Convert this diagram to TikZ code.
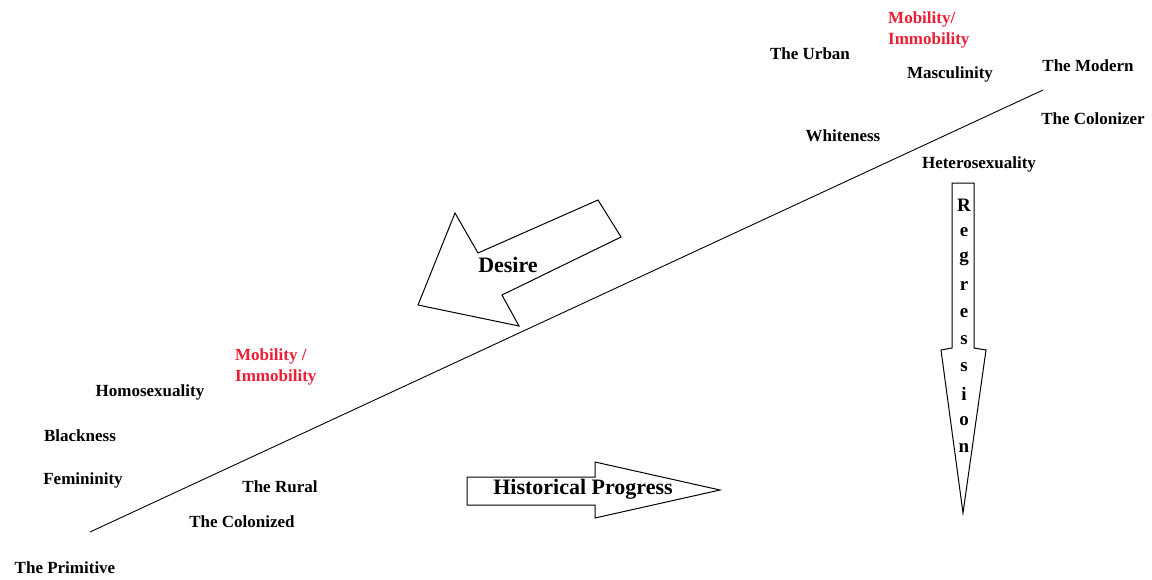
\documentclass[tikz,border=0pt]{standalone}
\usepackage{fontspec}
\setmainfont{Liberation Serif}
\definecolor{lblred}{RGB}{236,30,52}
\begin{document}
\begin{tikzpicture}[x=1pt,y=-1pt,
  lbl/.style={inner sep=0pt,font=\fontsize{17}{19}\selectfont\bfseries},
  redlbl/.style={lbl,text=lblred,align=left,font=\fontsize{17}{21}\selectfont\bfseries},
  biglbl/.style={inner sep=0pt,font=\fontsize{22}{24}\selectfont\bfseries},
  shapeline/.style={draw=black,line width=1pt,line join=miter,fill=white}]
\useasboundingbox (0,0) rectangle (1152,579);
% main line
\coordinate (lineS) at (90,532);
\coordinate (lineE) at (1043,90);
\draw[line width=0.9pt] (lineS) -- (lineE);
% Desire arrow
\draw[shapeline] (455,213) -- (478,253) -- (598,200) -- (621,237) -- (502,295) -- (519,326) -- (418,305) -- cycle;
\node[biglbl] (desire) at (508,265) {Desire};
% Historical progress arrow
\draw[shapeline] (467,477) -- (595,477) -- (595,462) -- (720,490) -- (595,518) -- (595,505) -- (467,505) -- cycle;
\node[biglbl] (hist) at (583,489) {Historical Progress};
% Regression arrow
\draw[shapeline] (952,183) -- (974,183) -- (974,348) -- (986,350) -- (963,513) -- (941,350) -- (952,348) -- cycle;
\foreach \ch [count=\i from 0] in {R,e,g,r,e,s,s,i,o,n}{
  \node[inner sep=0pt,font=\fontsize{19}{20}\selectfont\bfseries] (reg\i) at (964,205+27*\i) {\ch};
}
% labels upper right
\node[redlbl,anchor=north west] (mobtop) at (888,12) {Mobility/\\Immobility};
\node[lbl] (urban) at (810,54) {The Urban};
\node[lbl] (masc) at (950,74) {Masculinity};
\node[lbl] (modern) at (1088,66) {The Modern};
\node[lbl] (colonizer) at (1093,119) {The Colonizer};
\node[lbl] (white) at (843,136) {Whiteness};
\node[lbl] (hetero) at (979,164) {Heterosexuality};
% labels lower left
\node[redlbl,anchor=north west] (mobbot) at (235,348) {Mobility /\\Immobility};
\node[lbl] (homo) at (150,392) {Homosexuality};
\node[lbl] (black) at (80,436) {Blackness};
\node[lbl] (fem) at (83,480) {Femininity};
\node[lbl] (rural) at (280,487) {The Rural};
\node[lbl] (colonized) at (242,522) {The Colonized};
\node[lbl] (prim) at (65,568) {The Primitive};
\end{tikzpicture}
\end{document}
